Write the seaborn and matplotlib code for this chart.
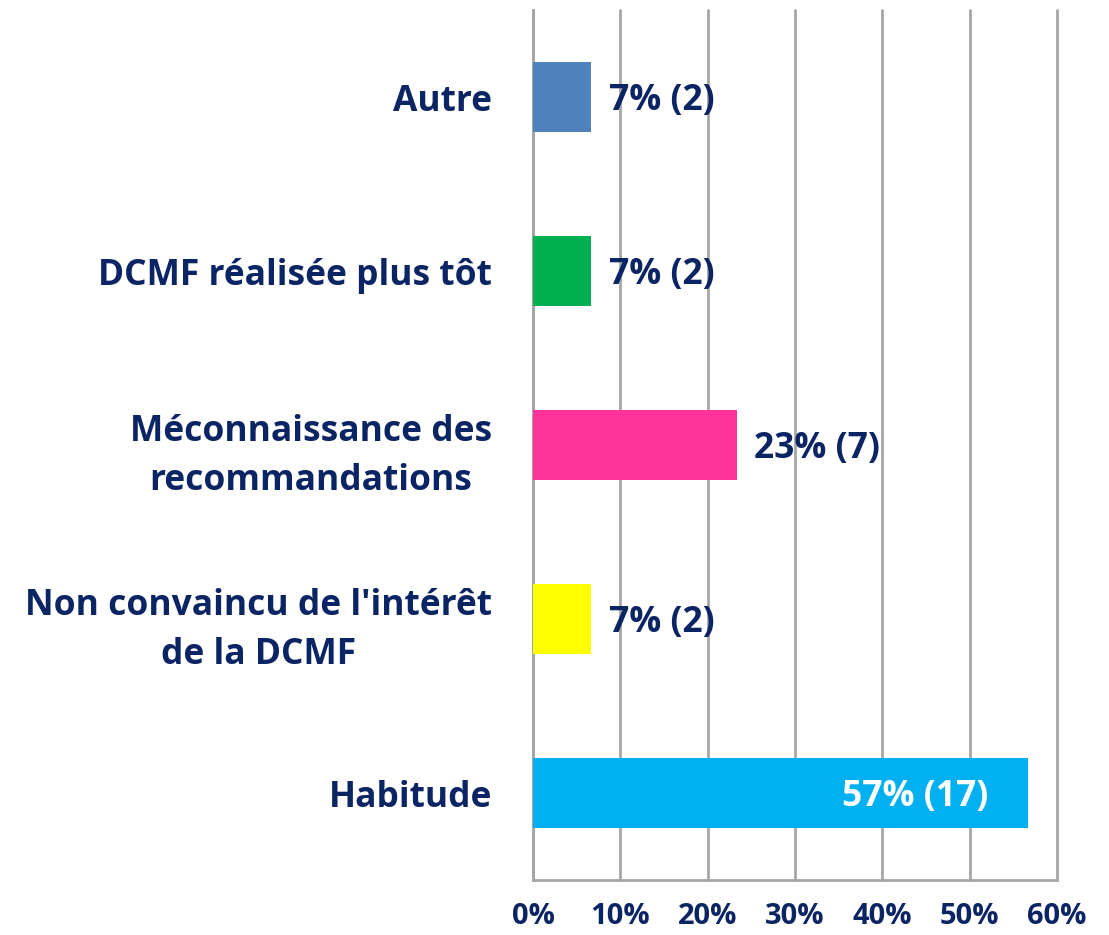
import numpy as np
import pandas as pd
import seaborn as sns
import matplotlib.pyplot as plt
from matplotlib.ticker import FixedLocator, PercentFormatter

categories = ["Autre", "DCMF réalisée plus tôt", "Méconnaissance des\nrecommandations",
              "Non convaincu de l'intérêt\nde la DCMF", "Habitude"]
counts = [2, 2, 7, 2, 17]
total = 30
colors = ["#4F81BD", "#00B050", "#FF3399", "#FFFF00", "#00B0F0"]

NAVY = "#0B2463"
GRID = "#A6A6A6"

df = pd.DataFrame({"cat": categories, "pct": [c / total * 100 for c in counts]})

sns.set_style("white")
plt.rcParams["font.family"] = ["Open Sans", "DejaVu Sans"]
plt.rcParams["font.weight"] = "bold"

fig = plt.figure(figsize=(11.09, 9.35), dpi=100)
ax = fig.add_axes([0.4806, 0.0588, 0.9531 - 0.4806, 0.9893 - 0.0588])

sns.barplot(data=df, x="pct", y="cat", hue="cat", palette=colors, legend=False,
            width=0.4, ax=ax, saturation=1, linewidth=0, zorder=3)

ax.set_xlim(0, 60)
ax.set_ylim(4.5, -0.5)
ax.set_xticks(np.arange(0, 61, 10))
ax.xaxis.set_major_formatter(PercentFormatter(decimals=0))
ax.grid(axis="x", color=GRID, lw=2, zorder=0)
ax.grid(axis="y", visible=False)
for gl in ax.get_xgridlines():
    gl.set_clip_on(False)
ax.set_xlabel("")
ax.set_ylabel("")

for s in ["top", "right"]:
    ax.spines[s].set_visible(False)
for s in ["left", "bottom"]:
    ax.spines[s].set_color(GRID)
    ax.spines[s].set_linewidth(2)

ax.tick_params(axis="x", length=7, width=2, color=GRID, pad=9,
               labelsize=21, labelcolor=NAVY)
ax.tick_params(axis="y", which="major", length=0, pad=29.5, labelsize=25.5, labelcolor=NAVY)
ax.yaxis.set_minor_locator(FixedLocator(np.arange(-0.5, 5, 1)))
ax.tick_params(axis="y", which="minor", length=11, width=2, color=GRID)
for lbl in ax.get_yticklabels():
    lbl.set_multialignment("center")
    lbl.set_linespacing(1.5)
    lbl.set_fontweight("bold")
for lbl in ax.get_xticklabels():
    lbl.set_fontweight("bold")

for i, (p, c) in enumerate(zip(df["pct"], counts)):
    txt = f"{p:.0f}% ({c})"
    if p > 40:
        ax.text(p - 4.5, i + 0.02, txt, ha="right", va="center", color="white",
                fontsize=25.5, fontweight="bold", zorder=4)
    else:
        ax.text(p + 2.0, i + 0.025, txt, ha="left", va="center", color=NAVY,
                fontsize=25.5, fontweight="bold", zorder=4)

fig.savefig("out.png", dpi=100)
